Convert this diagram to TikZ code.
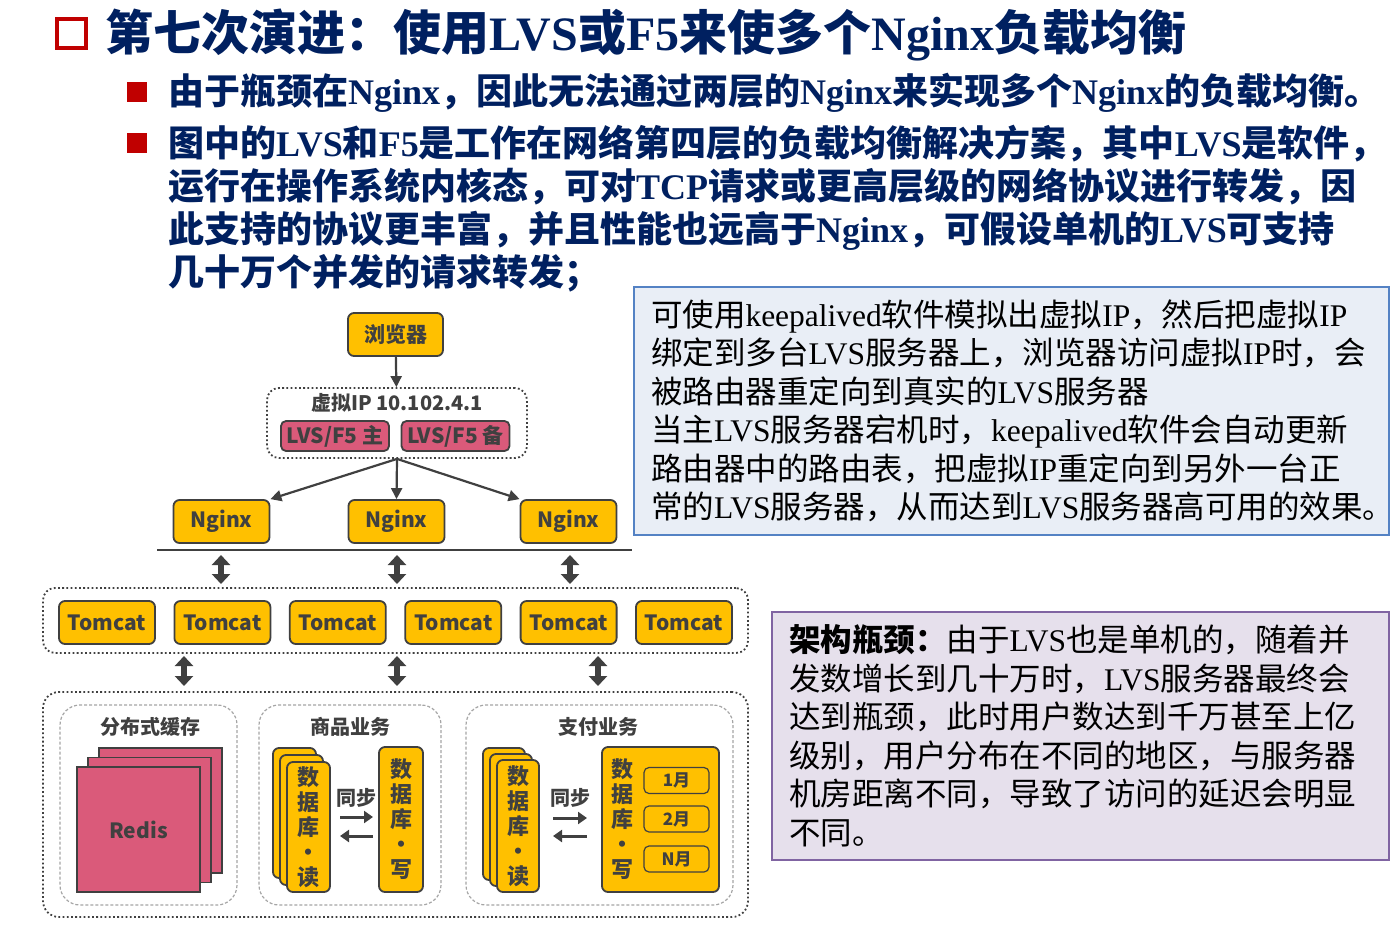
\documentclass[tikz,border=0pt]{standalone}
\usepackage{fontspec}
\usepackage{tikz}
\setmainfont{Noto Sans CJK SC}
\newfontfamily\lat{Liberation Serif}
\usetikzlibrary{arrows.meta}
\definecolor{navy}{RGB}{0,32,96}
\definecolor{bulletred}{RGB}{192,0,0}
\definecolor{boxyellow}{RGB}{255,192,0}
\definecolor{boxpink}{RGB}{218,90,122}
\definecolor{inkgray}{RGB}{64,64,64}
\definecolor{dashgray}{RGB}{165,165,165}
\definecolor{noteblue}{RGB}{233,238,246}
\definecolor{noteblueline}{RGB}{84,130,196}
\definecolor{notepurple}{RGB}{230,224,236}
\definecolor{notepurpleline}{RGB}{128,100,162}
\newcommand{\en}[1]{{\lat #1}}
\tikzset{
  ybox/.style={draw=inkgray,line width=1.8pt,fill=boxyellow,rounded corners=6pt,text=inkgray,
    font=\bfseries\fontsize{21}{24}\selectfont,minimum width=96pt,minimum height=43pt,inner sep=0pt},
  pbox/.style={ybox,fill=boxpink,minimum width=108pt,minimum height=30pt,rounded corners=5pt},
  rsq/.style={ybox,fill=boxpink,rounded corners=0pt,minimum width=123pt,minimum height=125pt},
  dbbox/.style={ybox,minimum width=43pt,minimum height=130pt,align=center,
    font=\bfseries\fontsize{22}{25}\selectfont},
  monthbox/.style={ybox,line width=1.2pt,minimum width=65pt,minimum height=26pt,rounded corners=5pt,
    font=\bfseries\fontsize{17}{20}\selectfont},
  dotbox/.style={draw=inkgray,line width=1.8pt,dash pattern=on 1.8pt off 2.4pt,rounded corners=12pt,
    inner sep=0pt},
  grpbox/.style={draw=dashgray,line width=1.2pt,dash pattern=on 3pt off 2pt,rounded corners=20pt,
    fill=white,inner sep=0pt},
  grplabel/.style={text=inkgray,font=\bfseries\fontsize{20}{24}\selectfont,inner sep=0pt},
  thinarrow/.style={draw=inkgray,line width=2.2pt,-{Triangle[length=11pt,width=11pt]}},
  syncarrow/.style={draw=inkgray,line width=3pt,-{Triangle[length=9pt,width=12pt]}},
  dblarrow/.style={draw=inkgray,line width=5.5pt,{Triangle[length=10pt,width=18pt]}-{Triangle[length=10pt,width=18pt]}},
  bullettext/.style={anchor=north west,inner sep=0pt,align=left,text=navy,
    font=\bfseries\fontsize{36}{43}\selectfont},
  keepnote/.style={draw=noteblueline,line width=1.5pt,fill=noteblue,minimum height=248pt,
    inner xsep=17pt,align=left,font=\fontsize{31.5}{38.5}\selectfont},
  bottlenote/.style={keepnote,draw=notepurpleline,fill=notepurple}
}
\begin{document}
\begin{tikzpicture}[x=1pt,y=-1pt]
\useasboundingbox (0,0) rectangle (1399,935);
% title and bullets:
\node[draw=bulletred,line width=4pt,minimum size=29pt,inner sep=0pt] (tbox) at (71.5,33.5) {};
\node[anchor=base west,inner sep=0pt,text=navy,font=\bfseries\fontsize{48}{52}\selectfont] (title) at (105,50)
  {第七次演进：使用\en{LVS}或\en{F5}来使多个\en{Nginx}负载均衡};
\node[fill=bulletred,minimum size=20pt,inner sep=0pt] (bula) at (137,92) {};
\node[fill=bulletred,minimum size=20pt,inner sep=0pt] (bulb) at (137,143) {};
\node[bullettext] (texta) at (168,73)
  {由于瓶颈在\en{Nginx}，因此无法通过两层的\en{Nginx}来实现多个\en{Nginx}的负载均衡。};
\node[bullettext] (textb) at (168,125)
  {图中的\en{LVS}和\en{F5}是工作在网络第四层的负载均衡解决方案，其中\en{LVS}是软件，\\
   运行在操作系统内核态，可对\en{TCP}请求或更高层级的网络协议进行转发，因\\
   此支持的协议更丰富，并且性能也远高于\en{Nginx}，可假设单机的\en{LVS}可支持\\
   几十万个并发的请求转发；};
% notes:
\node[keepnote,text width=721pt] (keepbox) at (1011.5,411)
  {可使用\en{keepalived}软件模拟出虚拟\en{IP}，然后把虚拟\en{IP}\\
   绑定到多台\en{LVS}服务器上，浏览器访问虚拟\en{IP}时，会\\
   被路由器重定向到真实的\en{LVS}服务器\\
   当主\en{LVS}服务器宕机时，\en{keepalived}软件会自动更新\\
   路由器中的路由表，把虚拟\en{IP}重定向到另外一台正\\
   常的\en{LVS}服务器，从而达到\en{LVS}服务器高可用的效果。};
\node[bottlenote,text width=583pt] (bottlebox) at (1080.5,736)
  {{\bfseries 架构瓶颈：}由于\en{LVS}也是单机的，随着并\\
   发数增长到几十万时，\en{LVS}服务器最终会\\
   达到瓶颈，此时用户数达到千万甚至上亿\\
   级别，用户分布在不同的地区，与服务器\\
   机房距离不同，导致了访问的延迟会明显\\
   不同。};
% browser and virtual ip:
\node[ybox,minimum width=95pt] (browser) at (395.5,334.5) {浏览器};
\node[dotbox,minimum width=260pt,minimum height=70pt] (vip) at (397,423) {};
\node[grplabel] (viplabel) at (397,403) {虚拟IP 10.102.4.1};
\node[pbox] (lvsmain) at (335,436) {LVS/F5 主};
\node[pbox] (lvsbak) at (455.5,436) {LVS/F5 备};
\draw[thinarrow] (browser) -- (vip);
% nginx layer:
\node[ybox] (ngxa) at (221.5,521.5) {Nginx};
\node[ybox] (ngxb) at (396.5,521.5) {Nginx};
\node[ybox] (ngxc) at (568.5,521.5) {Nginx};
\draw[thinarrow] (vip.south) -- (ngxa.north east);
\draw[thinarrow] (vip.south) -- (ngxb.north);
\draw[thinarrow] (vip.south) -- (ngxc.north west);
\coordinate (barl) at (157,550);
\coordinate (barr) at (632,550);
\draw[inkgray,line width=2.5pt] (barl) -- (barr);
\foreach \x/\n in {221/a,397/b,570/c} {
  \coordinate (upper\n) at (\x,555);
  \coordinate (lower\n) at (\x,584);
  \draw[dblarrow] (upper\n) -- (lower\n);
}
% tomcat layer:
\node[dotbox,minimum width=705pt,minimum height=65pt] (tomrow) at (395.5,620.5) {};
\foreach \i in {0,...,5}
  \node[ybox] (tom\i) at (107+115.4*\i,622.5) {Tomcat};
\foreach \x/\n in {184/a,397/b,598/c} {
  \coordinate (tomlow\n) at (\x,656);
  \coordinate (storeup\n) at (\x,686);
  \draw[dblarrow] (tomlow\n) -- (storeup\n);
}
% storage layer:
\node[dotbox,minimum width=705pt,minimum height=225pt,rounded corners=16pt] (store) at (395.5,804.5) {};
\node[grpbox,minimum width=177pt,minimum height=200pt] (cache) at (148.5,805) {};
\node[grpbox,minimum width=182pt,minimum height=200pt] (goods) at (350,805) {};
\node[grpbox,minimum width=267pt,minimum height=200pt] (pay) at (599.5,805) {};
\node[grplabel] (cachelabel) at (150,727) {分布式缓存};
\node[grplabel] (goodslabel) at (350,727) {商品业务};
\node[grplabel] (paylabel) at (598,727) {支付业务};
% redis
\foreach \k in {2,1}
  \node[rsq] (redis\k) at (138.5+11*\k,829.5-9.5*\k) {};
\node[rsq] (redis) at (138.5,829.5) {Redis};
% goods databases
\foreach \k in {2,1}
  \node[dbbox] (goodsread\k) at (308.5-7*\k,827-7*\k) {};
\node[dbbox] (goodsread) at (308.5,827) {数\\据\\库\\·\\读};
\node[dbbox,minimum width=44pt,minimum height=145pt] (goodswrite) at (401,819.5) {数\\据\\库\\·\\写};
\node[grplabel] (goodssync) at (356,798) {同步};
\coordinate (gsa) at (340,817); \coordinate (gsb) at (373,817);
\coordinate (gsc) at (373,836); \coordinate (gsd) at (340,836);
\draw[syncarrow] (gsa) -- (gsb);
\draw[syncarrow] (gsc) -- (gsd);
% pay databases
\foreach \k in {2,1}
  \node[dbbox,minimum width=42pt,minimum height=132pt] (payread\k) at (518-7*\k,826-6*\k) {};
\node[dbbox,minimum width=42pt,minimum height=132pt] (payread) at (518,826) {数\\据\\库\\·\\读};
\node[ybox,minimum width=117pt,minimum height=145pt] (paywrite) at (660.5,819.5) {};
\node[text=inkgray,align=center,inner sep=0pt,font=\bfseries\fontsize{22}{25}\selectfont] (paywritelabel)
  at (622,819) {数\\据\\库\\·\\写};
\node[monthbox] (monthone) at (676.5,780.5) {1月};
\node[monthbox] (monthtwo) at (676.5,819) {2月};
\node[monthbox] (monthn) at (676.5,859) {N月};
\node[grplabel] (paysync) at (570,798) {同步};
\coordinate (psa) at (553,818); \coordinate (psb) at (587,818);
\coordinate (psc) at (587,836); \coordinate (psd) at (553,836);
\draw[syncarrow] (psa) -- (psb);
\draw[syncarrow] (psc) -- (psd);
\end{tikzpicture}
\end{document}
